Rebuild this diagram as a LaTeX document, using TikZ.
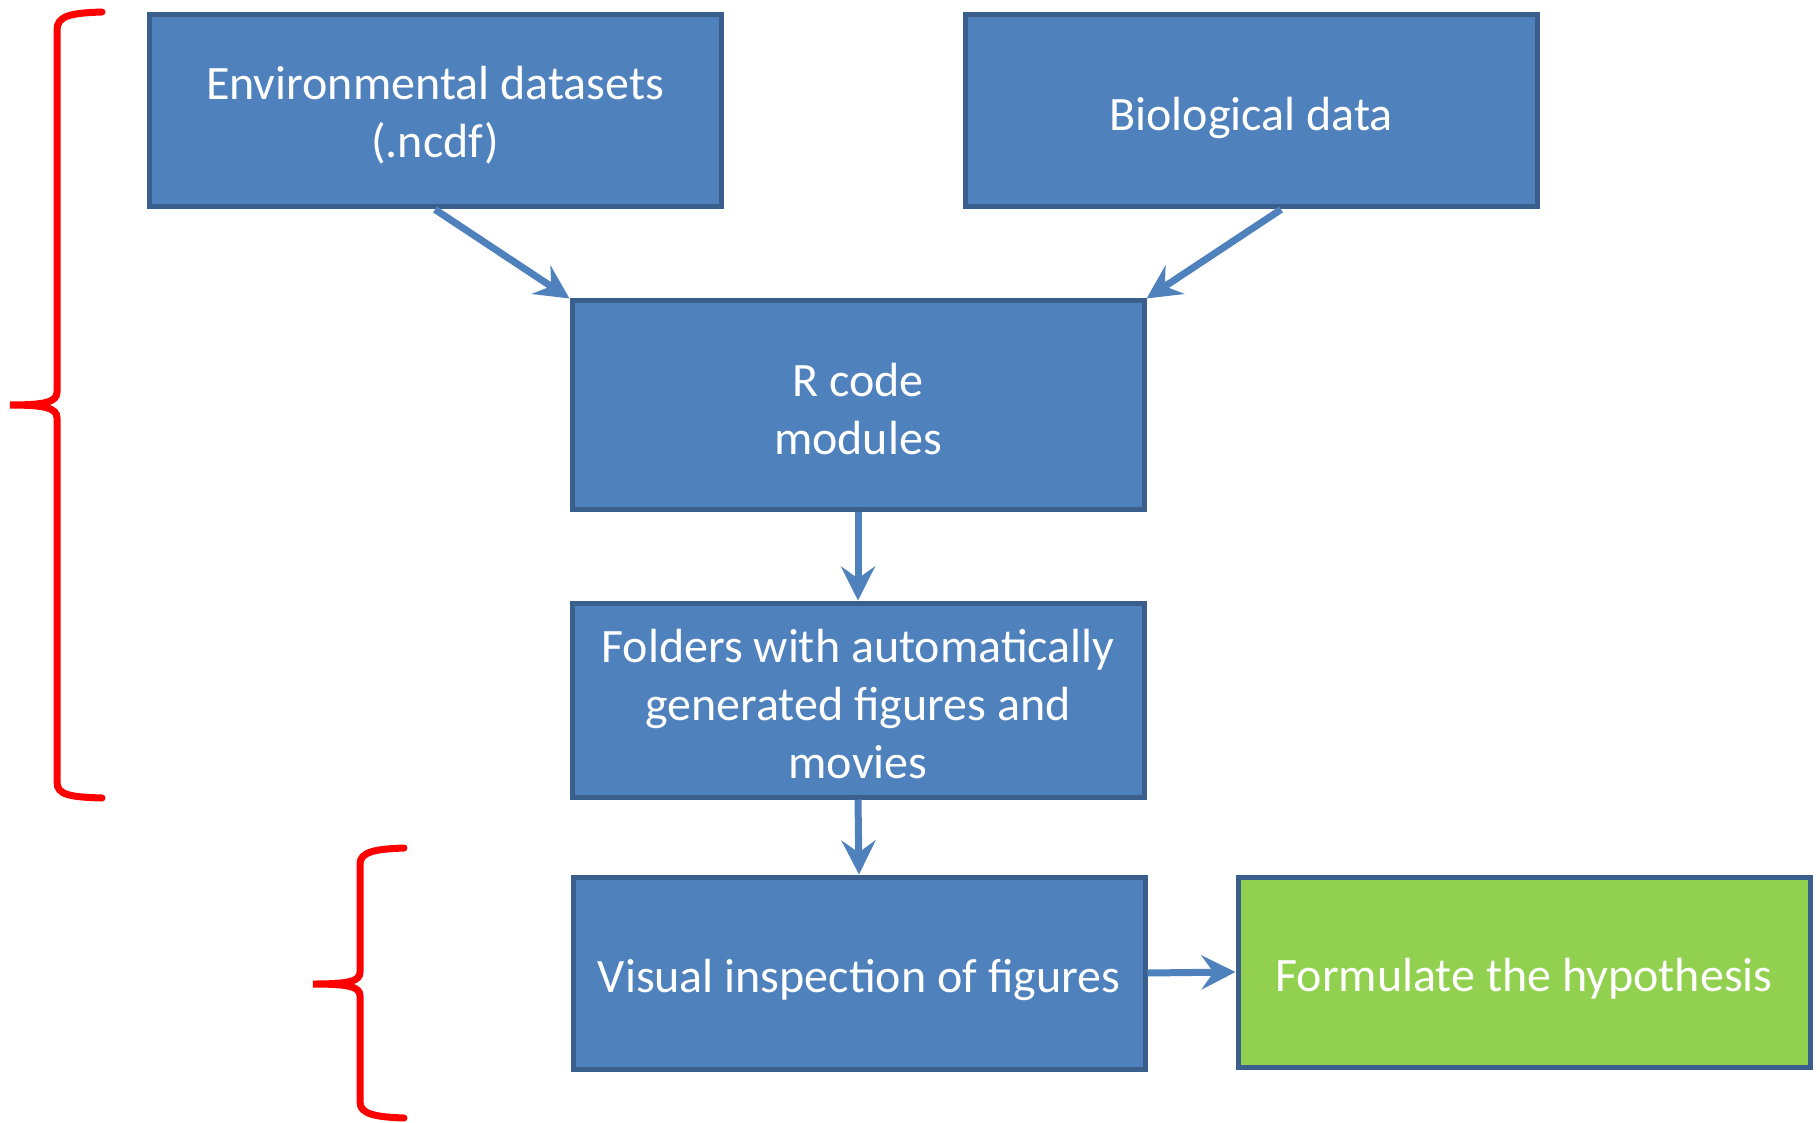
\documentclass[tikz,border=0pt]{standalone}
\usepackage{fontspec}
\setmainfont{Carlito}
\usetikzlibrary{arrows.meta}
\definecolor{boxblue}{HTML}{4F81BD}
\definecolor{boxedge}{HTML}{3A5F8C}
\definecolor{hypgreen}{HTML}{92D050}
\begin{document}
\begin{tikzpicture}[x=0.5pt,y=-0.5pt,
    stepbox/.style={draw=boxedge, line width=2.5pt, fill=boxblue, text=white,
        minimum width=286pt, align=center,
        font=\fontsize{24}{29}\selectfont,
        execute at begin node={\rule{0pt}{23.5pt}}},
    flow/.style={draw=boxblue, line width=3.5pt,
        -{Stealth[length=17pt,width=17pt,inset=6pt]}},
    bracket/.style={draw=red, line width=3.5pt, line cap=round}]
    \useasboundingbox (0,0) rectangle (1820,1123);

    %Input boxes
    \node[stepbox, minimum height=96pt, text height=49.5pt] (env) at (435,111) {Environmental datasets\\(.ncdf)};
    \node[stepbox, minimum height=96pt] (bio) at (1251,111) {Biological data};

    %Processing chain
    \node[stepbox, minimum height=104pt, text height=49.5pt] (rcode) at (858,405) {R code\\modules};
    \node[stepbox, minimum height=97pt, text height=78.5pt] (folders) at (858,700) {Folders with automatically\\generated figures and\\movies};
    \node[stepbox, minimum height=96pt] (visual) at (859,973) {Visual inspection of figures};
    \node[stepbox, minimum height=95pt, fill=hypgreen] (hypo) at (1524,972) {Formulate the hypothesis};

    %Arrows
    \draw[flow] (env.south) -- (rcode.north west);
    \draw[flow] ([xshift=15pt]bio.south) -- (rcode.north east);
    \draw[flow] (rcode.south) -- (folders.north);
    \draw[flow] (folders.south) -- (visual.north);
    \draw[flow] (visual.east) -- (hypo.west);

    %Brackets
    \draw[bracket] (102,12) .. controls (70,13) and (57,16) .. (57,30)
        -- (57,392) .. controls (57,402) and (45,405) .. (10,405)
        .. controls (45,405) and (57,408) .. (57,418)
        -- (57,782) .. controls (57,795) and (70,797) .. (102,798);
    \draw[bracket] (404,848) .. controls (375,849) and (360,852) .. (360,864)
        -- (360,972) .. controls (360,981) and (350,984) .. (313,984)
        .. controls (350,984) and (360,987) .. (360,996)
        -- (360,1102) .. controls (360,1114) and (375,1117) .. (404,1118);

\end{tikzpicture}
\end{document}
